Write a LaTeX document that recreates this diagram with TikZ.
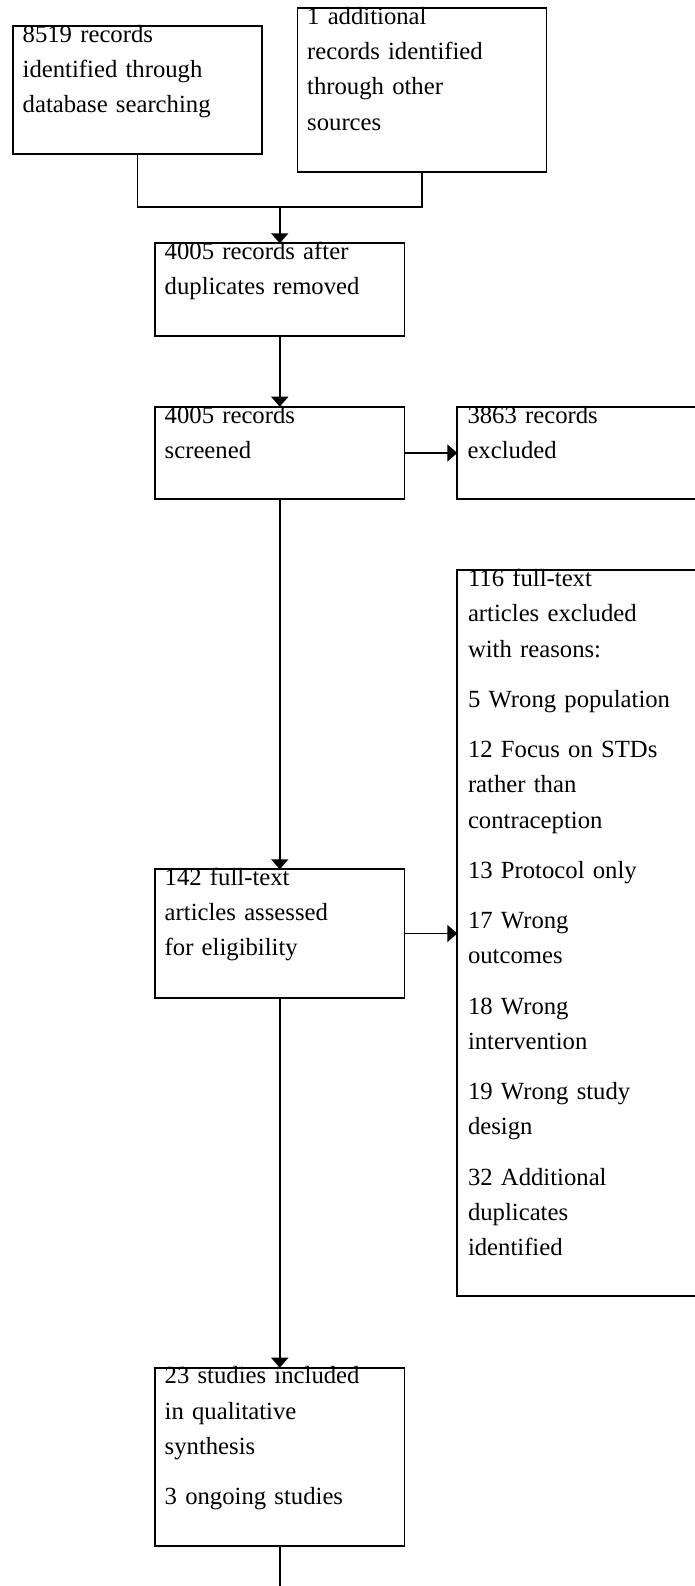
\documentclass[tikz,border=0pt]{standalone}
\usepackage{fontspec}
\setmainfont{Liberation Serif}
\usetikzlibrary{arrows.meta}
\tikzset{
  box/.style={draw, rectangle, line width=1.8pt, inner sep=0pt, outer sep=0pt, anchor=north west},
  txt/.style={inner sep=0pt, anchor=base west, align=left, text width=228pt,
    font=\fontsize{24.7}{35.3}\selectfont},
  conn/.style={line width=1.8pt},
  arr/.style={line width=1.8pt, -{Triangle[length=10pt,width=17pt]}}
}
\begin{document}
\begin{tikzpicture}[x=1pt,y=-1pt]
\useasboundingbox (0,0) rectangle (695,1586);
% boxes
\node[box, minimum width=249pt, minimum height=127.7pt] (b1) at (13,26.3) {};
\node[box, minimum width=249pt, minimum height=164pt] (b2) at (297.5,8.3) {};
\node[box, minimum width=249.5pt, minimum height=92.4pt] (b3) at (155,243.3) {};
\node[box, minimum width=249.5pt, minimum height=92.6pt] (b4) at (155,406.7) {};
\node[box, minimum width=239.7pt, minimum height=92.6pt] (b5) at (457.3,406.7) {};
\node[box, minimum width=239.7pt, minimum height=726pt] (b6) at (457.3,570) {};
\node[box, minimum width=249.5pt, minimum height=128.4pt] (b7) at (155,869.3) {};
\node[box, minimum width=249.5pt, minimum height=178pt] (b8) at (155,1367.7) {};
% texts
\node[txt] (t1) at ([xshift=9.5pt,yshift=-16pt]b1.north west) {8519 records\\identified through\\database searching};
\node[txt] (t2) at ([xshift=9.5pt,yshift=-16pt]b2.north west) {1 additional\\records identified\\through other\\sources};
\node[txt] (t3) at ([xshift=9.5pt,yshift=-16pt]b3.north west) {4005 records after\\duplicates removed};
\node[txt] (t4) at ([xshift=9.5pt,yshift=-16.3pt]b4.north west) {4005 records\\screened};
\node[txt] (t5) at ([xshift=10pt,yshift=-16.3pt]b5.north west) {3863 records\\excluded};
\node[txt] (t6) at ([xshift=10.5pt,yshift=-16.5pt]b6.north west) {116 full-text\\articles excluded\\with reasons:\\[14.9pt]5 Wrong population\\[14.9pt]12 Focus on STDs\\rather than\\contraception\\[14.9pt]13 Protocol only\\[14.9pt]17 Wrong\\outcomes\\[14.9pt]18 Wrong\\intervention\\[14.9pt]19 Wrong study\\design\\[14.9pt]32 Additional\\duplicates\\identified};
\node[txt] (t7) at ([xshift=9.5pt,yshift=-16pt]b7.north west) {142 full-text\\articles assessed\\for eligibility};
\node[txt] (t8) at ([xshift=9.5pt,yshift=-16pt]b8.north west) {23 studies included\\in qualitative\\synthesis\\[14.9pt]3 ongoing studies};
% connectors
\coordinate (m) at (279.75,207.3);
\coordinate (bottomend) at (279.75,1590);
\draw[conn] (b1.south) -- (b1.south |- m) -- (b2.south |- m) -- (b2.south);
\draw[arr] (m) -- (b3.north);
\draw[arr] (b3.south) -- (b4.north);
\draw[arr] (b4.east) -- (b4.east -| b5.west);
\draw[arr] (b4.south) -- (b7.north);
\draw[arr] (b7.east) -- (b7.east -| b6.west);
\draw[arr] (b7.south) -- (b8.north);
\draw[conn] (b8.south) -- (bottomend);
\end{tikzpicture}
\end{document}
